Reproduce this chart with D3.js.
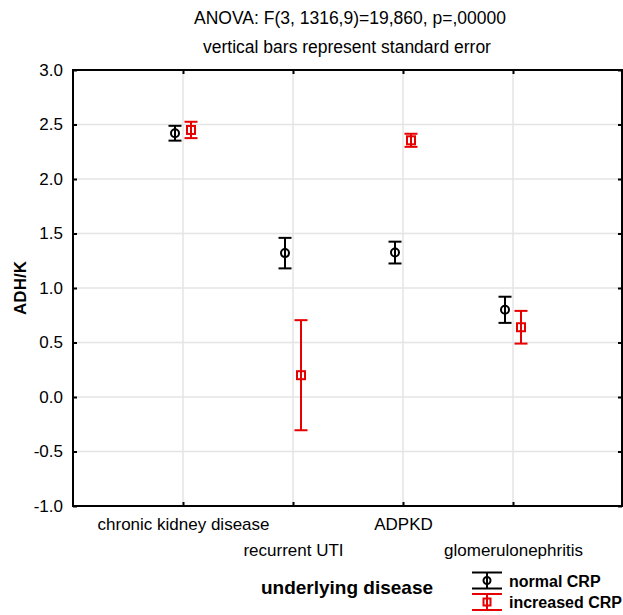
<!DOCTYPE html>
<html>
<head>
<meta charset="utf-8">
<script src="https://cdn.jsdelivr.net/npm/d3@7"></script>
<style>
  body { margin: 0; background: #fff; }
  text { font-family: "Liberation Sans", Arial, sans-serif; }
</style>
</head>
<body>
<div id="graph"></div>
<script>
// data
var categories = ["chronic kidney disease", "recurrent UTI", "ADPKD", "glomerulonephritis"];
var normalMean = [2.42, 1.32, 1.325, 0.80];
var normalSE = [0.068, 0.14, 0.10, 0.12];
var increasedMean = [2.45, 0.20, 2.355, 0.64];
var increasedSE = [0.075, 0.505, 0.06, 0.15];
var yTicks = [-1.0, -0.5, 0.0, 0.5, 1.0, 1.5, 2.0, 2.5, 3.0];
var seriesNames = ["normal CRP", "increased CRP"];

var w = 623, h = 615;
var pLeft = 73, pRight = 622, pTop = 70, pBottom = 506;

var vis = d3.select("#graph").append("svg").attr("width", w).attr("height", h);

var x = d3.scalePoint().domain(categories).range([pLeft, pRight + 1]).padding(1);
var y = d3.scaleLinear().domain([-1, 3]).range([pBottom, pTop]);
var fmt = function(d) { return d.toFixed(1); };

//grid lines
vis.selectAll(".hgrid").data(yTicks.slice(1, -1)).enter().append("line")
   .attr("x1", pLeft).attr("x2", pRight)
   .attr("y1", function(d) { return y(d); }).attr("y2", function(d) { return y(d); })
   .style("stroke", "#e4e4e4").style("stroke-width", 1.5);
vis.selectAll(".vgrid").data(categories).enter().append("line")
   .attr("x1", function(d) { return x(d); }).attr("x2", function(d) { return x(d); })
   .attr("y1", pTop).attr("y2", pBottom)
   .style("stroke", "#e4e4e4").style("stroke-width", 1.5);

//axes, ticks pointing inward
var yAxis = vis.append("g").attr("transform", "translate(" + pLeft + ",0)")
   .call(d3.axisLeft(y).tickValues(yTicks).tickFormat(fmt).tickSizeInner(-4).tickSizeOuter(0).tickPadding(10));
vis.append("g").attr("transform", "translate(" + pRight + ",0)")
   .call(d3.axisRight(y).tickValues(yTicks).tickFormat("").tickSizeInner(-4).tickSizeOuter(0));
var xAxis = vis.append("g").attr("transform", "translate(0," + pBottom + ")")
   .call(d3.axisBottom(x).tickSizeInner(-4).tickSizeOuter(0).tickPadding(12));
vis.append("g").attr("transform", "translate(0," + pTop + ")")
   .call(d3.axisTop(x).tickFormat("").tickSizeInner(-4).tickSizeOuter(0));
vis.selectAll(".domain").remove();
vis.selectAll(".tick line").style("stroke", "#000").style("stroke-width", 2);
yAxis.selectAll("text").style("font-size", "17px").style("fill", "#000")
   .text(function(d) { return fmt(d); });
xAxis.selectAll("text").style("font-size", "17px").style("fill", "#000")
   .attr("y", function(d, i) { return i % 2 ? 38 : 12; });

//frame
vis.append("rect").attr("x", pLeft).attr("y", pTop)
   .attr("width", pRight - pLeft).attr("height", pBottom - pTop)
   .style("fill", "none").style("stroke", "#000").style("stroke-width", 2);

//titles
vis.append("text").attr("x", 350).attr("y", 24).attr("text-anchor", "middle")
   .style("font-size", "17.5px").text("ANOVA: F(3, 1316,9)=19,860, p=,00000");
vis.append("text").attr("x", 347).attr("y", 53).attr("text-anchor", "middle")
   .style("font-size", "17.5px").text("vertical bars represent standard error");
vis.append("text").attr("transform", "translate(26,288) rotate(-90)").attr("text-anchor", "middle")
   .style("font-size", "17px").style("font-weight", "bold").text("ADH/K");
vis.append("text").attr("x", 347).attr("y", 594).attr("text-anchor", "middle")
   .style("font-size", "19px").style("font-weight", "bold").text("underlying disease");

//error bars
var series = [
  {name: seriesNames[0], mean: normalMean, se: normalSE, color: "#000", dx: -8, shape: "circle"},
  {name: seriesNames[1], mean: increasedMean, se: increasedSE, color: "#e60000", dx: 8, shape: "square"}
];

function drawMarker(g, shape, color, size) {
  if (shape == "circle") {
    g.append("circle").attr("r", size / 2)
     .style("fill", "none").style("stroke", color).style("stroke-width", 2);
  } else {
    g.append("rect").attr("x", -size / 2).attr("y", -size / 2).attr("width", size).attr("height", size)
     .style("fill", "none").style("stroke", color).style("stroke-width", 2);
  }
}

series.forEach(function(s) {
  categories.forEach(function(c, i) {
    var cx = x(c) + s.dx;
    var hi = y(s.mean[i] + s.se[i]), lo = y(s.mean[i] - s.se[i]);
    var g = vis.append("g").style("stroke", s.color).style("stroke-width", 2);
    g.append("line").attr("x1", cx).attr("x2", cx).attr("y1", hi).attr("y2", lo);
    g.append("line").attr("x1", cx - 6.5).attr("x2", cx + 6.5).attr("y1", hi).attr("y2", hi);
    g.append("line").attr("x1", cx - 6.5).attr("x2", cx + 6.5).attr("y1", lo).attr("y2", lo);
    var m = vis.append("g").attr("transform", "translate(" + cx + "," + y(s.mean[i]) + ")");
    drawMarker(m, s.shape, s.color, 8);
  });
});

//legend
var legend = vis.selectAll(".legend").data(series).enter().append("g")
   .attr("transform", function(d, i) { return "translate(487," + (580.5 + i * 21.5) + ")"; });
legend.each(function(d) {
  var g = d3.select(this);
  g.append("line").attr("x1", -15).attr("x2", 15).attr("y1", -8).attr("y2", -8).style("stroke", d.color).style("stroke-width", 2);
  g.append("line").attr("x1", -15).attr("x2", 15).attr("y1", 8).attr("y2", 8).style("stroke", d.color).style("stroke-width", 2);
  g.append("line").attr("x1", 0).attr("x2", 0).attr("y1", -8).attr("y2", 8).style("stroke", d.color).style("stroke-width", 2);
  drawMarker(g, d.shape, d.color, 7);
  g.append("text").attr("x", 22).attr("y", 6).style("font-size", "16px").style("font-weight", "bold")
   .text(d.name);
});
</script>
</body>
</html>
